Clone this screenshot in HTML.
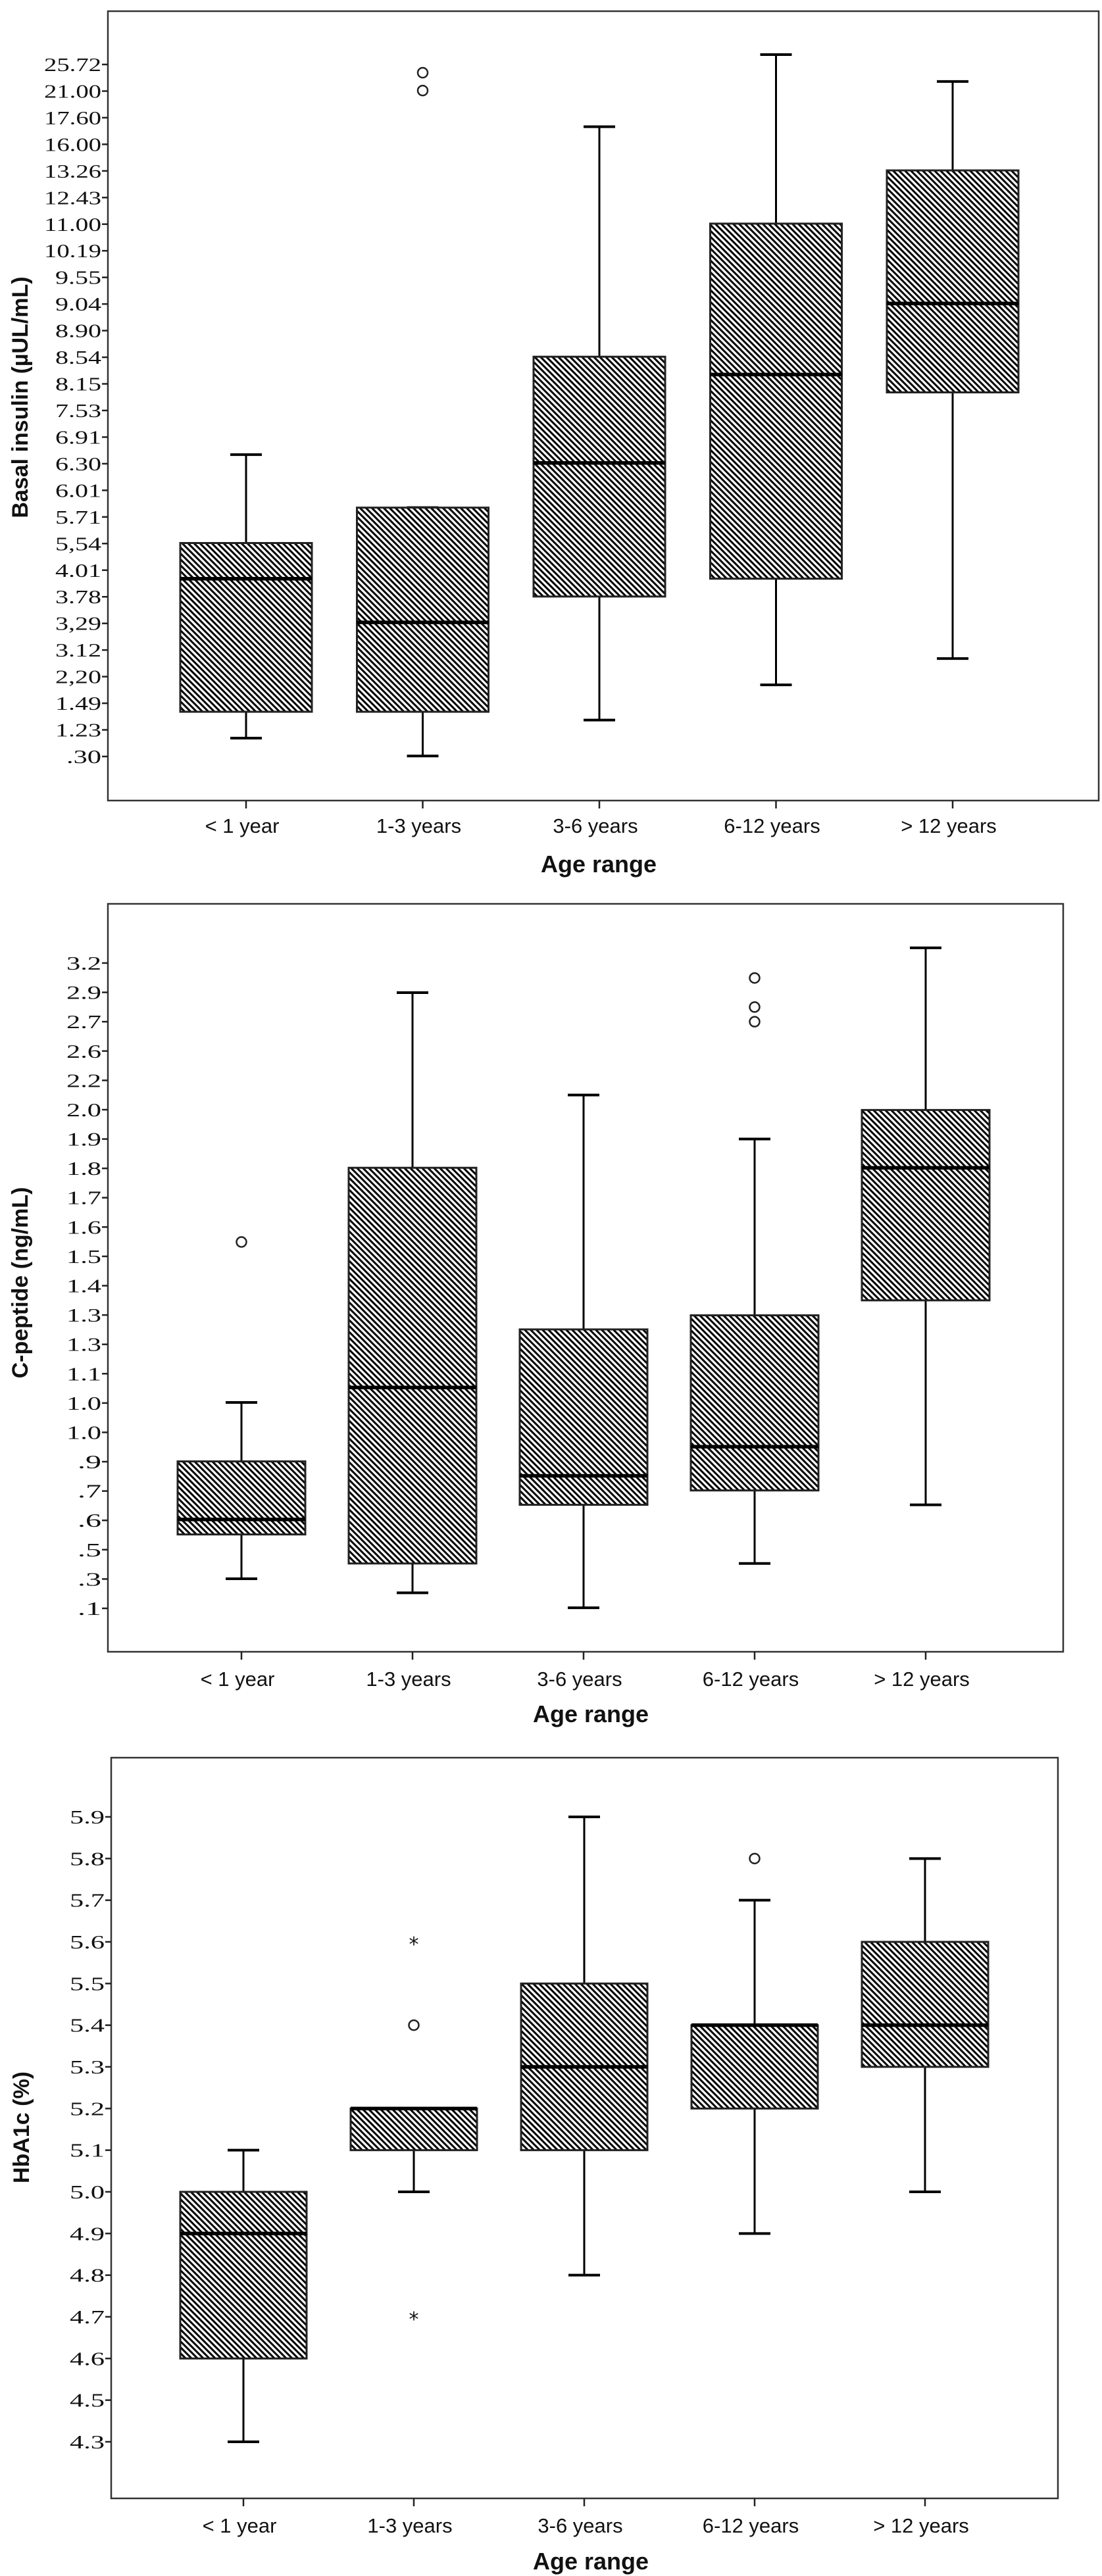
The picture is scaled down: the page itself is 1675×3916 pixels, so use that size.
<!DOCTYPE html>
<html><head><meta charset="utf-8"><style>
html,body{margin:0;padding:0;background:#fff;}
svg{display:block;}
</style></head><body>
<svg id="root" xmlns="http://www.w3.org/2000/svg" width="1675" height="3916" viewBox="0 0 1675 3916">
<defs>
<pattern id="hatch" patternUnits="userSpaceOnUse" width="9" height="9">
<rect width="9" height="9" fill="#fff"/>
<path d="M-2,-2 L11,11 M-2,7 L2,11 M7,-2 L11,2" stroke="#000" stroke-width="3"/>
</pattern>
</defs>
</svg>
<script>
// Shared categories
const categories = ["< 1 year", "1-3 years", "3-6 years", "6-12 years", "> 12 years"];

// Chart 1: Basal insulin (values in axis tick-index units, 0 = bottom tick)
const insulinTicks = ["25.72","21.00","17.60","16.00","13.26","12.43","11.00","10.19","9.55","9.04","8.90","8.54","8.15","7.53","6.91","6.30","6.01","5.71","5,54","4.01","3.78","3,29","3.12","2,20","1.49","1.23",".30"];
const insulinHigh = [11.34, 9.35, 23.66, 26.37, 25.36];
const insulinQ3 = [8.02, 9.35, 15.02, 20.02, 22.02];
const insulinMedian = [6.68, 5.04, 11.03, 14.35, 17.02];
const insulinQ1 = [1.68, 1.68, 6.01, 6.68, 13.68];
const insulinLow = [0.69, 0.02, 1.37, 2.69, 3.68];
const insulinOutliers = [[1, 25.69, "o"], [1, 25.02, "o"]];

// Chart 2: C-peptide
const cpepTicks = ["3.2","2.9","2.7","2.6","2.2","2.0","1.9","1.8","1.7","1.6","1.5","1.4","1.3","1.3","1.1","1.0","1.0",".9",".7",".6",".5",".3",".1"];
const cpepHigh = [7.02, 20.99, 17.5, 16.0, 22.52];
const cpepQ3 = [5.01, 15.02, 9.51, 9.99, 16.99];
const cpepMedian = [3.03, 7.53, 4.52, 5.51, 15.02];
const cpepQ1 = [2.52, 1.53, 3.53, 4.02, 10.5];
const cpepLow = [1.01, 0.53, 0.02, 1.53, 3.53];
const cpepOutliers = [[0, 12.49, "o"], [3, 21.49, "o"], [3, 20.5, "o"], [3, 20.0, "o"]];

// Chart 3: HbA1c
const hbaTicks = ["5.9","5.8","5.7","5.6","5.5","5.4","5.3","5.2","5.1","5.0","4.9","4.8","4.7","4.6","4.5","4.3"];
const hbaHigh = [7, 8, 15, 13, 14];
const hbaQ3 = [6, 8, 11, 10, 12];
const hbaMedian = [5, 8, 9, 10, 10];
const hbaQ1 = [2, 7, 7, 8, 9];
const hbaLow = [0, 6, 4, 5, 6];
const hbaOutliers = [[1, 10, "o"], [1, 12, "*"], [1, 3, "*"], [3, 14, "o"]];

const NS = "http://www.w3.org/2000/svg";
const root = document.getElementById("root");
function mk(tag, attrs, parent) {
  const e = document.createElementNS(NS, tag);
  for (const k in attrs) e.setAttribute(k, attrs[k]);
  (parent || root).appendChild(e);
  return e;
}

function drawChart(cfg, ticks, high, q3, med, q1, low, outliers, prefix) {
  const g = mk("g", {});
  
  
  const nT = ticks.length - 1;
  const step = (cfg.y0 - cfg.yTop) / nT;
  const yScale = v => cfg.y0 - v * step;
  const xScale = i => cfg.x0 + i * cfg.dx;

  const frame = mk("rect", {x: cfg.left, y: cfg.top, width: cfg.right - cfg.left, height: cfg.bottom - cfg.top, fill: "none", stroke: "#333", "stroke-width": 2.5}, g);
  
  

  // y ticks
  ticks.forEach((t, k) => {
    const idx = nT - k;
    const y = yScale(idx);
    const tk = mk("line", {x1: cfg.left - 9, x2: cfg.left, y1: y, y2: y, stroke: "#222", "stroke-width": 2.5}, g);
    
    
    const tx = mk("text", {x: cfg.left - 10, y: y + 10, "text-anchor": "end", "font-family": "Liberation Serif, serif", "font-size": 28, fill: "#111", textLength: t.length * 17 + 2, lengthAdjust: "spacingAndGlyphs"}, g);
    tx.textContent = t;
    
    
  });

  // x ticks and labels
  categories.forEach((c, i) => {
    const x = xScale(i);
    const tk = mk("line", {x1: x, x2: x, y1: cfg.bottom, y2: cfg.bottom + 12, stroke: "#222", "stroke-width": 2.5}, g);
    
    
    const tx = mk("text", {x: x - 6, y: cfg.xLabelY, "text-anchor": "middle", "font-family": "Liberation Sans, sans-serif", "font-size": 31, fill: "#111"}, g);
    tx.textContent = c;
    
    
  });

  // boxes
  categories.forEach((c, i) => {
    const x = xScale(i), w = cfg.boxW, cap = 24;
    const bg = mk("g", {}, g);
    
    
    const wl = mk("line", {x1: x, x2: x, y1: yScale(high[i]), y2: yScale(low[i]), stroke: "#000", "stroke-width": 3}, bg);
    
    
    [high[i], low[i]].forEach(v => {
      const cl = mk("line", {x1: x - cap, x2: x + cap, y1: yScale(v), y2: yScale(v), stroke: "#000", "stroke-width": 4}, bg);
      
      
    });
    const r = mk("rect", {x: x - w / 2, y: yScale(q3[i]), width: w, height: yScale(q1[i]) - yScale(q3[i]), fill: "url(#hatch)", stroke: "#222", "stroke-width": 3}, bg);
    
    
    const m = mk("line", {x1: x - w / 2, x2: x + w / 2, y1: yScale(med[i]), y2: yScale(med[i]), stroke: "#000", "stroke-width": 5.5}, bg);
    
    
  });

  outliers.forEach(o => {
    const x = xScale(o[0]), y = yScale(o[1]);
    let e;
    if (o[2] === "o") {
      e = mk("circle", {cx: x, cy: y, r: 7.5, fill: "none", stroke: "#222", "stroke-width": 2.5}, g);
      
    } else {
      e = mk("text", {x: x, y: y + 14, "text-anchor": "middle", "font-family": "DejaVu Sans, sans-serif", "font-size": 30, fill: "#111"}, g);
      e.textContent = "*";
      
    }
    
  });

  const xt = mk("text", {x: cfg.xTitleX, y: cfg.xTitleY, "text-anchor": "middle", "font-family": "Liberation Sans, sans-serif", "font-weight": "bold", "font-size": 36, fill: "#111"}, g);
  xt.textContent = "Age range";
  
  
  const yt = mk("text", {x: 0, y: 0, "text-anchor": "middle", "font-family": "Liberation Sans, sans-serif", "font-weight": "bold", "font-size": 34, fill: "#111", transform: "translate(" + cfg.yTitleX + "," + cfg.yTitleY + ") rotate(-90)"}, g);
  yt.textContent = cfg.yTitle;
  
  
}

drawChart({left: 164, right: 1670, top: 17, bottom: 1217, y0: 1150, yTop: 98, x0: 374, dx: 268.5, boxW: 200,
  xLabelY: 1266, xTitleX: 910, xTitleY: 1326, yTitle: "Basal insulin (\u00b5UL/mL)", yTitleX: 42, yTitleY: 604},
  insulinTicks, insulinHigh, insulinQ3, insulinMedian, insulinQ1, insulinLow, insulinOutliers, "insulin");

drawChart({left: 164, right: 1616, top: 1374, bottom: 2511, y0: 2445, yTop: 1464, x0: 367, dx: 260, boxW: 194,
  xLabelY: 2563, xTitleX: 898, xTitleY: 2618, yTitle: "C-peptide (ng/mL)", yTitleX: 42, yTitleY: 1950},
  cpepTicks, cpepHigh, cpepQ3, cpepMedian, cpepQ1, cpepLow, cpepOutliers, "cpeptide");

drawChart({left: 169, right: 1608, top: 2672, bottom: 3798, y0: 3712, yTop: 2762, x0: 370, dx: 259, boxW: 192,
  xLabelY: 3850, xTitleX: 898, xTitleY: 3906, yTitle: "HbA1c (%)", yTitleX: 44, yTitleY: 3234},
  hbaTicks, hbaHigh, hbaQ3, hbaMedian, hbaQ1, hbaLow, hbaOutliers, "hba1c");
</script>
</body></html>
